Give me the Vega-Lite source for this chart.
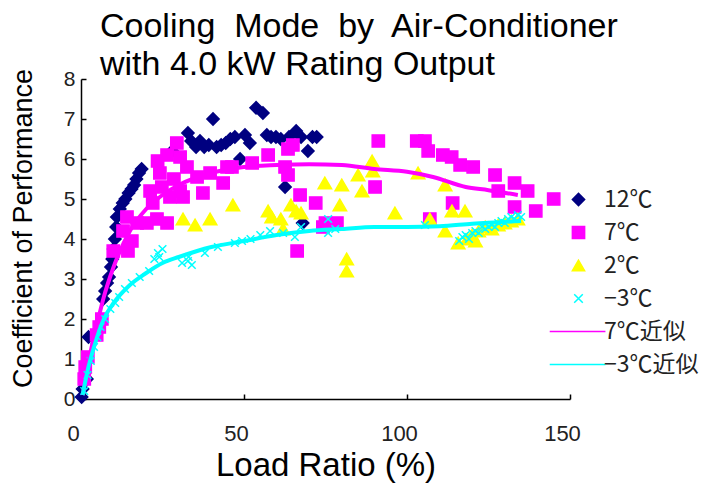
{
"$schema": "https://vega.github.io/schema/vega-lite/v6.json",
"width": 489, "height": 320,
"autosize": "none",
"padding": {"left": 81, "top": 79, "right": 138, "bottom": 96},
"background": "white",
"config": {"view": {"stroke": null}, "font": "Liberation Sans", "axis": {"labelOverlap": false}, "axisY": {"labelOverlap": false}, "axisLeft": {"labelOverlap": false}},
"title": {"text": ["Cooling\u00a0 Mode\u00a0 by\u00a0 Air-Conditioner", "with 4.0 kW Rating Output"], "fontSize": 34, "font": "Liberation Sans", "fontWeight": "normal", "color": "#000", "anchor": "start", "frame": "group", "dx": 19, "offset": -14, "lineHeight": 38},
"datasets": {
"pts": [
{"s":"12℃","x":0.2,"y":0.05},{"s":"12℃","x":0.5,"y":0.25},{"s":"12℃","x":1.8,"y":0.5},{"s":"12℃","x":2.3,"y":1.55},{"s":"12℃","x":6.8,"y":2.5},{"s":"12℃","x":7.4,"y":2.7},{"s":"12℃","x":8.0,"y":2.9},{"s":"12℃","x":8.6,"y":3.05},{"s":"12℃","x":9.2,"y":3.3},{"s":"12℃","x":9.6,"y":3.5},{"s":"12℃","x":10.0,"y":3.75},{"s":"12℃","x":10.4,"y":4.0},{"s":"12℃","x":10.8,"y":4.3},{"s":"12℃","x":11.0,"y":4.55},{"s":"12℃","x":11.9,"y":4.75},{"s":"12℃","x":12.8,"y":4.9},{"s":"12℃","x":13.6,"y":5.0},{"s":"12℃","x":14.6,"y":5.15},{"s":"12℃","x":15.5,"y":5.25},{"s":"12℃","x":16.3,"y":5.35},{"s":"12℃","x":17.0,"y":5.5},{"s":"12℃","x":17.8,"y":5.65},{"s":"12℃","x":18.6,"y":5.75},{"s":"12℃","x":28.0,"y":6.2},{"s":"12℃","x":32.8,"y":6.65},{"s":"12℃","x":33.8,"y":6.45},{"s":"12℃","x":35.3,"y":6.3},{"s":"12℃","x":36.5,"y":6.45},{"s":"12℃","x":37.8,"y":6.3},{"s":"12℃","x":39.2,"y":6.35},{"s":"12℃","x":40.5,"y":7.0},{"s":"12℃","x":41.6,"y":6.3},{"s":"12℃","x":43.0,"y":6.35},{"s":"12℃","x":44.4,"y":6.4},{"s":"12℃","x":45.8,"y":6.5},{"s":"12℃","x":47.2,"y":6.55},{"s":"12℃","x":48.8,"y":6.0},{"s":"12℃","x":50.3,"y":6.6},{"s":"12℃","x":51.8,"y":6.4},{"s":"12℃","x":53.7,"y":7.28},{"s":"12℃","x":55.8,"y":7.15},{"s":"12℃","x":57.0,"y":6.6},{"s":"12℃","x":58.3,"y":6.55},{"s":"12℃","x":59.8,"y":6.55},{"s":"12℃","x":61.3,"y":6.5},{"s":"12℃","x":62.6,"y":5.3},{"s":"12℃","x":63.8,"y":6.55},{"s":"12℃","x":66.0,"y":6.7},{"s":"12℃","x":67.5,"y":6.55},{"s":"12℃","x":68.0,"y":4.4},{"s":"12℃","x":69.6,"y":6.2},{"s":"12℃","x":71.0,"y":6.55},{"s":"12℃","x":72.3,"y":6.55},
{"s":"7℃","x":1.0,"y":0.5},{"s":"7℃","x":1.3,"y":0.8},{"s":"7℃","x":2.1,"y":1.05},{"s":"7℃","x":4.8,"y":1.6},{"s":"7℃","x":5.6,"y":1.8},{"s":"7℃","x":6.4,"y":2.0},{"s":"7℃","x":9.9,"y":3.7},{"s":"7℃","x":12.9,"y":4.2},{"s":"7℃","x":14.1,"y":4.55},{"s":"7℃","x":14.4,"y":3.7},{"s":"7℃","x":15.6,"y":3.95},{"s":"7℃","x":17.2,"y":4.4},{"s":"7℃","x":20.2,"y":4.4},{"s":"7℃","x":23.3,"y":4.5},{"s":"7℃","x":26.4,"y":4.4},{"s":"7℃","x":22.0,"y":4.9},{"s":"7℃","x":24.8,"y":5.3},{"s":"7℃","x":21.2,"y":5.2},{"s":"7℃","x":24.2,"y":5.65},{"s":"7℃","x":23.5,"y":5.95},{"s":"7℃","x":26.4,"y":6.1},{"s":"7℃","x":29.4,"y":6.4},{"s":"7℃","x":30.4,"y":6.05},{"s":"7℃","x":32.5,"y":5.8},{"s":"7℃","x":30.4,"y":5.2},{"s":"7℃","x":27.3,"y":5.05},{"s":"7℃","x":31.3,"y":5.05},{"s":"7℃","x":28.5,"y":5.5},{"s":"7℃","x":35.6,"y":5.55},{"s":"7℃","x":37.4,"y":5.15},{"s":"7℃","x":39.6,"y":5.65},{"s":"7℃","x":43.6,"y":5.4},{"s":"7℃","x":44.8,"y":5.8},{"s":"7℃","x":46.3,"y":5.8},{"s":"7℃","x":52.5,"y":5.9},{"s":"7℃","x":57.4,"y":6.1},{"s":"7℃","x":63.5,"y":6.25},{"s":"7℃","x":65.0,"y":6.35},{"s":"7℃","x":62.6,"y":5.8},{"s":"7℃","x":63.5,"y":5.6},{"s":"7℃","x":67.2,"y":5.1},{"s":"7℃","x":72.0,"y":4.9},{"s":"7℃","x":74.2,"y":4.3},{"s":"7℃","x":66.3,"y":3.7},{"s":"7℃","x":75.0,"y":4.4},{"s":"7℃","x":78.5,"y":4.4},{"s":"7℃","x":91.2,"y":6.45},{"s":"7℃","x":90.2,"y":5.3},{"s":"7℃","x":103.0,"y":6.45},{"s":"7℃","x":105.5,"y":6.45},{"s":"7℃","x":106.5,"y":6.2},{"s":"7℃","x":111.0,"y":6.1},{"s":"7℃","x":113.7,"y":6.05},{"s":"7℃","x":116.3,"y":5.85},{"s":"7℃","x":120.3,"y":5.8},{"s":"7℃","x":127.0,"y":5.6},{"s":"7℃","x":128.0,"y":5.2},{"s":"7℃","x":133.0,"y":5.4},{"s":"7℃","x":137.0,"y":5.2},{"s":"7℃","x":145.0,"y":5.0},{"s":"7℃","x":139.5,"y":4.7},{"s":"7℃","x":133.0,"y":4.8},{"s":"7℃","x":114.0,"y":4.9},{"s":"7℃","x":107.0,"y":4.5},
{"s":"2℃","x":31.3,"y":4.5},{"s":"2℃","x":35.0,"y":4.35},{"s":"2℃","x":39.6,"y":4.5},{"s":"2℃","x":46.6,"y":4.85},{"s":"2℃","x":57.4,"y":4.7},{"s":"2℃","x":58.5,"y":4.55},{"s":"2℃","x":61.3,"y":4.5},{"s":"2℃","x":62.0,"y":4.25},{"s":"2℃","x":64.4,"y":4.85},{"s":"2℃","x":66.0,"y":4.7},{"s":"2℃","x":67.5,"y":4.65},{"s":"2℃","x":74.8,"y":5.4},{"s":"2℃","x":80.0,"y":5.35},{"s":"2℃","x":85.0,"y":5.6},{"s":"2℃","x":89.3,"y":5.95},{"s":"2℃","x":89.5,"y":5.7},{"s":"2℃","x":86.2,"y":5.2},{"s":"2℃","x":79.4,"y":4.85},{"s":"2℃","x":96.3,"y":4.65},{"s":"2℃","x":81.5,"y":3.5},{"s":"2℃","x":81.5,"y":3.2},{"s":"2℃","x":103.4,"y":5.65},{"s":"2℃","x":111.7,"y":5.35},{"s":"2℃","x":113.8,"y":4.7},{"s":"2℃","x":117.8,"y":4.7},{"s":"2℃","x":107.0,"y":4.5},{"s":"2℃","x":111.7,"y":4.2},{"s":"2℃","x":115.7,"y":3.9},{"s":"2℃","x":118.5,"y":4.0},{"s":"2℃","x":120.0,"y":4.1},{"s":"2℃","x":122.0,"y":4.2},{"s":"2℃","x":124.0,"y":4.3},{"s":"2℃","x":126.0,"y":4.25},{"s":"2℃","x":128.0,"y":4.35},{"s":"2℃","x":130.0,"y":4.4},{"s":"2℃","x":132.0,"y":4.45},{"s":"2℃","x":134.0,"y":4.5},{"s":"2℃","x":121.0,"y":3.95},
{"s":"−3℃","x":1,"y":0.2},{"s":"−3℃","x":2,"y":0.6},{"s":"−3℃","x":3,"y":0.95},{"s":"−3℃","x":4,"y":1.3},{"s":"−3℃","x":5,"y":1.55},{"s":"−3℃","x":6,"y":1.8},{"s":"−3℃","x":7.4,"y":2.0},{"s":"−3℃","x":9,"y":2.25},{"s":"−3℃","x":10.5,"y":2.4},{"s":"−3℃","x":11.7,"y":2.55},{"s":"−3℃","x":13.5,"y":2.75},{"s":"−3℃","x":15.6,"y":2.9},{"s":"−3℃","x":18,"y":3.05},{"s":"−3℃","x":20.9,"y":3.2},{"s":"−3℃","x":22.5,"y":3.5},{"s":"−3℃","x":23.6,"y":3.65},{"s":"−3℃","x":25,"y":3.75},{"s":"−3℃","x":24,"y":3.55},{"s":"−3℃","x":31,"y":3.4},{"s":"−3℃","x":32.8,"y":3.45},{"s":"−3℃","x":34,"y":3.35},{"s":"−3℃","x":33,"y":3.55},{"s":"−3℃","x":38,"y":3.65},{"s":"−3℃","x":42,"y":3.8},{"s":"−3℃","x":47.2,"y":3.9},{"s":"−3℃","x":49.4,"y":3.95},{"s":"−3℃","x":52,"y":4.0},{"s":"−3℃","x":55,"y":4.1},{"s":"−3℃","x":58,"y":4.2},{"s":"−3℃","x":62,"y":4.15},{"s":"−3℃","x":65.6,"y":4.05},{"s":"−3℃","x":67.5,"y":4.3},{"s":"−3℃","x":75.8,"y":4.5},{"s":"−3℃","x":75.8,"y":4.15},{"s":"−3℃","x":78,"y":4.25},{"s":"−3℃","x":105.5,"y":4.35},{"s":"−3℃","x":116,"y":3.95},{"s":"−3℃","x":117,"y":4.05},{"s":"−3℃","x":118,"y":4.1},{"s":"−3℃","x":119,"y":4.0},{"s":"−3℃","x":120,"y":4.15},{"s":"−3℃","x":121,"y":4.2},{"s":"−3℃","x":122,"y":4.15},{"s":"−3℃","x":123,"y":4.3},{"s":"−3℃","x":124,"y":4.25},{"s":"−3℃","x":125,"y":4.3},{"s":"−3℃","x":126,"y":4.35},{"s":"−3℃","x":127,"y":4.3},{"s":"−3℃","x":128,"y":4.4},{"s":"−3℃","x":129,"y":4.45},{"s":"−3℃","x":130,"y":4.4},{"s":"−3℃","x":131,"y":4.5},{"s":"−3℃","x":132,"y":4.55},{"s":"−3℃","x":133,"y":4.5},{"s":"−3℃","x":134,"y":4.6},{"s":"−3℃","x":135,"y":4.55}
],
"fits": [
{"s":"7℃近似","x":0.5,"y":0.1},{"s":"7℃近似","x":1,"y":0.3},{"s":"7℃近似","x":3,"y":1.2},{"s":"7℃近似","x":5,"y":1.9},{"s":"7℃近似","x":7,"y":2.55},{"s":"7℃近似","x":10,"y":3.3},{"s":"7℃近似","x":15,"y":4.2},{"s":"7℃近似","x":20,"y":4.75},{"s":"7℃近似","x":25,"y":5.1},{"s":"7℃近似","x":30,"y":5.35},{"s":"7℃近似","x":40,"y":5.65},{"s":"7℃近似","x":50,"y":5.8},{"s":"7℃近似","x":60,"y":5.85},{"s":"7℃近似","x":70,"y":5.87},{"s":"7℃近似","x":80,"y":5.85},{"s":"7℃近似","x":90,"y":5.75},{"s":"7℃近似","x":100,"y":5.68},{"s":"7℃近似","x":108,"y":5.55},{"s":"7℃近似","x":118,"y":5.3},{"s":"7℃近似","x":125,"y":5.22},{"s":"7℃近似","x":134,"y":5.1},
{"s":"−3℃近似","x":0.5,"y":0.1},{"s":"−3℃近似","x":2,"y":0.7},{"s":"−3℃近似","x":4,"y":1.3},{"s":"−3℃近似","x":7,"y":2.0},{"s":"−3℃近似","x":10,"y":2.4},{"s":"−3℃近似","x":15,"y":2.85},{"s":"−3℃近似","x":20,"y":3.15},{"s":"−3℃近似","x":25,"y":3.4},{"s":"−3℃近似","x":30,"y":3.55},{"s":"−3℃近似","x":40,"y":3.8},{"s":"−3℃近似","x":50,"y":3.95},{"s":"−3℃近似","x":60,"y":4.1},{"s":"−3℃近似","x":70,"y":4.2},{"s":"−3℃近似","x":80,"y":4.25},{"s":"−3℃近似","x":90,"y":4.3},{"s":"−3℃近似","x":100,"y":4.3},{"s":"−3℃近似","x":110,"y":4.32},{"s":"−3℃近似","x":120,"y":4.38},{"s":"−3℃近似","x":135,"y":4.45}
]
},
"encoding": {
 "x": {"field": "x", "type": "quantitative", "scale": {"domain": [0, 150], "nice": false},
  "axis": {"values": [0, 50, 100, 150], "title": "Load Ratio (%)", "grid": false, "domainColor": "#000", "domainWidth": 1.5, "tickColor": "#000", "tickSize": -5, "tickWidth": 1.5, "labelFont": "Liberation Sans", "labelFontSize": 22, "labelColor": "#222", "labelPadding": 46, "labelBaseline": "alphabetic", "labelFlush": false, "labelOverlap": false, "labelOffset": -8, "titleFont": "Liberation Sans", "titleFontSize": 33, "titleFontWeight": "normal", "titleColor": "#000", "titleY": 76, "titleBaseline": "alphabetic"}},
 "y": {"field": "y", "type": "quantitative", "scale": {"domain": [0, 8], "nice": false, "zero": true},
  "axis": {"values": [0, 1, 2, 3, 4, 5, 6, 7, 8], "title": "Coefficient of Performance", "grid": false, "domainColor": "#000", "domainWidth": 1.5, "tickColor": "#000", "tickSize": -5, "tickWidth": 1.5, "labelFont": "Liberation Sans", "labelFontSize": 21, "labelColor": "#222", "labelPadding": 11, "labelFlush": false, "labelOverlap": false, "labelSeparation": 0, "labelExpr": "format(datum.value, 'd')", "titleFont": "Liberation Sans", "titleFontSize": 27, "titleFontWeight": "normal", "titleColor": "#000", "titleX": -50, "titleY": 149, "titleAngle": -90, "titleBaseline": "alphabetic", "titleAlign": "center"}}
},
"layer": [
{"data": {"name": "pts"}, "mark": {"type": "point", "filled": true, "opacity": 1, "strokeWidth": 1.5},
 "encoding": {
 "color": {"field": "s", "type": "nominal", "sort": null,
  "scale": {"domain": ["12℃", "7℃", "2℃", "−3℃", "7℃近似", "−3℃近似"], "range": ["#000080", "#FF00FF", "#FFFF00", "#00FFFF", "#FF00FF", "#00FFFF"]},
  "legend": {"orient": "none", "legendX": 486, "legendY": 109, "padding": 0, "title": null, "labelFont": "Noto Sans CJK JP", "labelFontSize": 23, "labelColor": "#222", "labelOffset": 14, "symbolSize": 150, "rowPadding": 9, "direction": "vertical", "columns": 1}},
 "shape": {"field": "s", "type": "nominal", "sort": null,
  "scale": {"domain": ["12℃", "7℃", "2℃", "−3℃", "7℃近似", "−3℃近似"], "range": ["diamond", "square", "triangle-up", "M-0.7,-0.7L0.7,0.7M0.7,-0.7L-0.7,0.7", "M-4.7,0H4.4", "M-4.7,0H4.4"]}},
 "stroke": {"field": "s", "type": "nominal", "sort": null, "legend": null,
  "scale": {"domain": ["12℃", "7℃", "2℃", "−3℃"], "range": ["#000080", "#FF00FF", "#FFFF00", "#00FFFF"]}},
 "size": {"field": "s", "type": "nominal", "sort": null, "legend": null,
  "scale": {"type": "ordinal", "domain": ["12℃", "7℃", "2℃", "−3℃"], "range": [150, 150, 180, 120]}}
 }},
{"data": {"name": "fits"}, "mark": {"type": "line", "strokeWidth": 4, "interpolate": "monotone"},
 "encoding": {
 "color": {"field": "s", "type": "nominal", "sort": null}
 }}
]
}
